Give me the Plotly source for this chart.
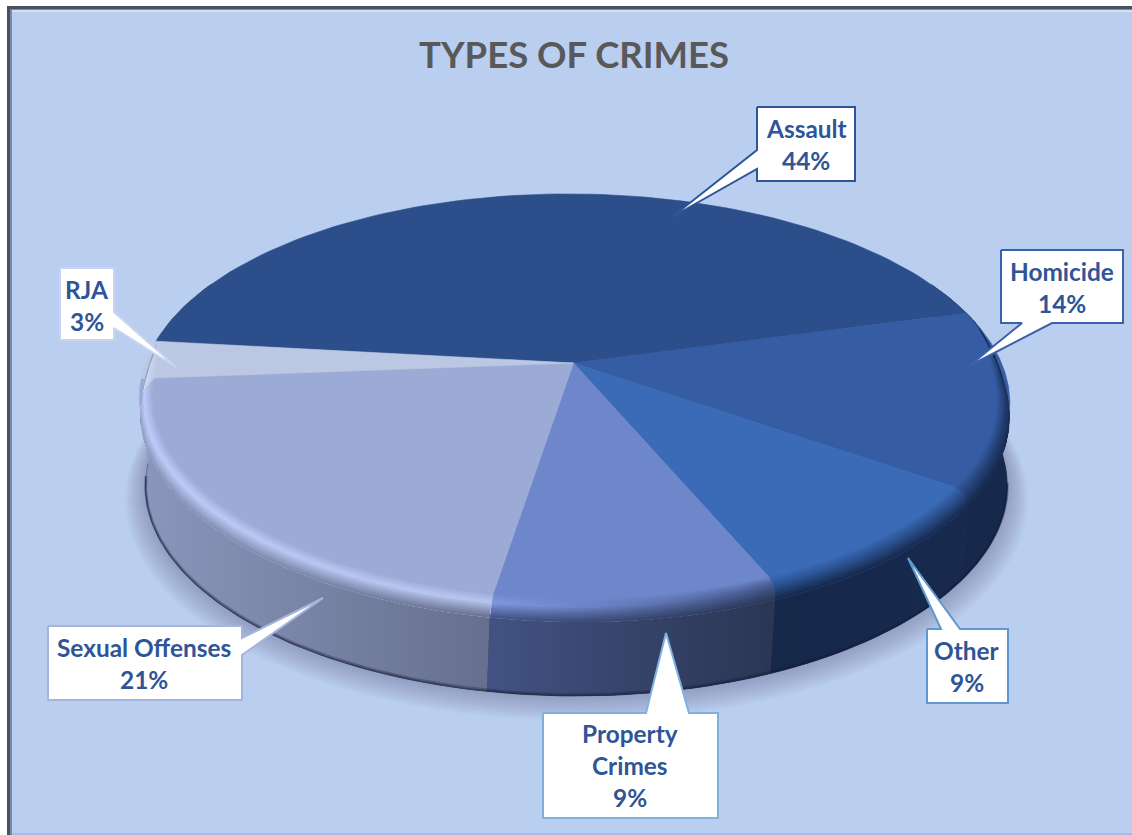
import numpy as np
import plotly.graph_objects as go

# Crime categories and their shares, clockwise from the back-left of the pie
categories = ["Assault", "Homicide", "Other", "Property Crimes", "Sexual Offenses", "RJA"]
shares = [44, 14, 9, 9, 21, 3]
label_lines = [["Assault"], ["Homicide"], ["Other"], ["Property", "Crimes"], ["Sexual Offenses"], ["RJA"]]
title_text = "TYPES OF CRIMES"

# Per-slice paint: face, rim highlight (left, right), wall (left, right)
face_colors = ["#2c4f8c", "#365ca4", "#3b6bb7", "#6e86ca", "#9cabd6", "#bcc8e3"]
rim_colors = [("#2c4f8c", "#2c4f8c"), ("#27467f", "#1f3a6c"), ("#2c5596", "#2a4f8c"),
              ("#7f9ae2", "#46598f"), ("#bccbf8", "#b6c4ee"), ("#d6dff8", "#c6d2ee")]
wall_colors = [("#15284a", "#15284a"), ("#15284a", "#16294c"), ("#15284a", "#172a4e"),
               ("#425283", "#2a3653"), ("#8a96bc", "#666f8d"), ("#8f9cc2", "#8a96bc")]

# Callout geometry: box (x0, y0, x1, y1), tail (base, tip, base), border colour, text centre
callout_boxes = [(757, 107, 855, 181), (1001, 250, 1123, 323), (927, 629, 1008, 703),
                 (543, 713, 718, 818), (48, 626, 242, 700), (60, 268, 114, 340)]
callout_tails = [((757, 150), (672, 217), (757, 169)), ((1022, 323), (969, 366), (1052, 323)),
                 ((941, 629), (908, 558), (960, 629)), ((646, 713), (666, 633), (689, 713)),
                 ((242, 638), (323, 598), (242, 655)), ((114, 312), (176, 367), (114, 328))]
callout_borders = ["#2f5597", "#3a62a8", "#5f97cf", "#7fb0e0", "#a3b4de", "#c8d5ef"]
label_centres = [(806, 128), (1062, 271), (967, 650), (630, 733), (144, 647), (87, 289)]
LINE_STEP = 32

# Perspective model of the pie
FIRST_ANGLE = 173.6      # degrees, slices run clockwise from here
APEX_X, APEX_Y = 573.5, 363.0
RADIUS_X, RADIUS_Y = 428.0, 199.7
TILT = 0.181
DEPTH_X, DEPTH_Y, DEPTH_RX, DEPTH_RY = 3.0, 85.0, 0.99, 1.017
SHEAR = -0.03


def project(theta_deg, r=1.0, z=0.0):
    th = np.radians(theta_deg)
    u, v = r * np.cos(th), r * np.sin(th)
    s = 1.0 / (1.0 + TILT * v)
    apex_y = APEX_Y + DEPTH_Y * z
    y = apex_y - RADIUS_Y * (1 + (DEPTH_RY - 1) * z) * v * s
    x = (APEX_X + DEPTH_X * z + RADIUS_X * (1 + (DEPTH_RX - 1) * z) * u * s
         - SHEAR * (1 - z) * (y - apex_y))
    return x, y


def mix(c1, c2, t):
    a = [int(c1[i:i + 2], 16) for i in (1, 3, 5)]
    b = [int(c2[i:i + 2], 16) for i in (1, 3, 5)]
    return "#" + "".join(f"{int(round(p + (q - p) * t)):02x}" for p, q in zip(a, b))


def bevel_weight(theta):
    return np.clip((0.22 - np.sin(np.radians(theta))) / 0.25, 0, 1)


def rim_point(theta, t):
    w = bevel_weight(theta)
    r = 1 - 0.03 * w * (1 - np.sin(t * np.pi / 2))
    z = 0.17 * w * t ** 2
    return project(theta, r, z)


fig = go.Figure()


def add_poly(xs, ys, fill=None, gradient=None):
    kw = dict(x=xs, y=ys, mode="lines", fill="toself", hoverinfo="skip", showlegend=False)
    if gradient:
        kw["fillgradient"] = dict(type="horizontal", colorscale=[[0, gradient[0]], [1, gradient[1]]])
        kw["line"] = dict(width=0)
    else:
        kw["fillcolor"] = fill
        c = fill if fill.startswith("#") else "rgba(0,0,0,0)"
        kw["line"] = dict(width=0.6 if fill.startswith("#") else 0, color=c)
    fig.add_trace(go.Scatter(**kw))


# Soft drop shadow built from stacked translucent ellipses
ring = np.linspace(0, 360, 181)
for grow in range(26, 0, -2):
    px, py = project(ring, 1 + grow / 560, 1)
    add_poly(px, py + grow * 0.4, fill="rgba(60,80,125,0.028)")

# Slice boundaries from the shares
spans = np.array(shares) * 3.6
ends = FIRST_ANGLE - np.cumsum(spans)
starts = ends + spans

# Dark underlay so neighbouring walls meet without a seam
th = np.linspace(25, -205, 200)
top = np.array([rim_point(q, 1) for q in th])
bx, by = project(th, 1, 1)
add_poly(np.r_[top[:, 0], bx[::-1]], np.r_[top[:, 1], by[::-1]], fill="#28324f")

# Outer walls; the end slices run on past the silhouette so the sides close up
for i in range(1, len(shares)):
    a = 25 if i == 1 else starts[i]
    b = -205 if i == len(shares) - 1 else ends[i]
    th = np.linspace(a, b, 70)
    t_top = np.array([rim_point(q, 1) for q in th])
    bx, by = project(th, 1, 1)
    add_poly(np.r_[t_top[:, 0], bx[::-1]], np.r_[t_top[:, 1], by[::-1]], gradient=wall_colors[i])

# Top faces
for i in range(len(shares)):
    th = np.linspace(starts[i], ends[i], 90)
    px, py = project(th)
    ax, ay = project(0.0, 0.0)
    add_poly(np.r_[ax, px, ax], np.r_[ay, py, ay], fill=face_colors[i])

# Bevel strips easing from the face into the wall; each one overlaps the next
levels = np.linspace(0, 1, 13)
for i in range(1, len(shares)):
    th = np.linspace(starts[i], ends[i], 60)
    outer = np.array([rim_point(q, 1.0) for q in th])
    for t0, t1 in zip(levels[:-1], levels[1:]):
        tm = (t0 + t1) / 2
        cols = []
        for side in (0, 1):
            if tm < 0.45:
                cols.append(mix(face_colors[i], rim_colors[i][side], tm / 0.45))
            else:
                cols.append(mix(rim_colors[i][side], wall_colors[i][side], (tm - 0.45) / 0.55))
        p0 = np.array([rim_point(q, t0) for q in th])
        add_poly(np.r_[p0[:, 0], outer[::-1, 0]], np.r_[p0[:, 1], outer[::-1, 1]], gradient=tuple(cols))

# Dark lip along the bottom edge of the wall
th = np.linspace(-172, -10, 150)
for z, alpha, width in [(0.985, 0.3, 3), (0.995, 0.4, 1.5)]:
    px, py = project(th, 1, z)
    fig.add_trace(go.Scatter(x=px, y=py, mode="lines", hoverinfo="skip", showlegend=False,
                             line=dict(color=f"rgba(20,28,55,{alpha})", width=width)))

# Callouts
for box, tail, border in zip(callout_boxes, callout_tails, callout_borders):
    x0, y0, x1, y1 = box
    a, tip, b = tail
    if a[1] == y0:      # tail on the top edge
        pts = [(x0, y0), a, tip, b, (x1, y0), (x1, y1), (x0, y1)]
    elif a[1] == y1:    # tail on the bottom edge
        pts = [(x0, y0), (x1, y0), (x1, y1), b, tip, a, (x0, y1)]
    elif a[0] == x0:    # tail on the left edge
        pts = [(x0, y0), (x1, y0), (x1, y1), (x0, y1), b, tip, a]
    else:               # tail on the right edge
        pts = [(x0, y0), (x1, y0), a, tip, b, (x1, y1), (x0, y1)]
    pts.append(pts[0])
    xs, ys = zip(*pts)
    fig.add_trace(go.Scatter(x=xs, y=ys, mode="lines", fill="toself", fillcolor="#ffffff",
                             line=dict(color=border, width=2), hoverinfo="skip", showlegend=False))

# Callout text, one annotation per line for exact leading
annotations = []
for lines, share, (cx, cy) in zip(label_lines, shares, label_centres):
    for n, text in enumerate(lines + [f"{share}%"]):
        annotations.append(dict(x=cx, y=cy + n * LINE_STEP, text=f"<b>{text}</b>", showarrow=False,
                                xanchor="center", yanchor="middle",
                                font=dict(family="Lato", size=24.4, color="#2f5597")))
annotations.append(dict(x=574, y=54, text=f"<b>{title_text}</b>", showarrow=False, xanchor="center",
                        yanchor="middle", font=dict(family="Lato", size=36.5, color="#595959")))

# Chart area with its bevelled frame
shapes = [
    dict(type="rect", x0=7, y0=6, x1=1132, y1=835, fillcolor="#4b505f", line_width=0, layer="below"),
    dict(type="rect", x0=10, y0=9, x1=1132, y1=835, fillcolor="#7b8aa8", line_width=0, layer="below"),
    dict(type="rect", x0=12, y0=10, x1=1132, y1=835, fillcolor="#d3e1f7", line_width=0, layer="below"),
    dict(type="rect", x0=12, y0=12, x1=1132, y1=833, fillcolor="#bacef0", line_width=0, layer="below"),
    dict(type="rect", x0=12, y0=833, x1=1132, y1=835, fillcolor="#a6bde3", line_width=0, layer="below"),
]

fig.update_layout(
    width=1132, height=835, margin=dict(l=0, r=0, t=0, b=0), autosize=False,
    paper_bgcolor="#ffffff", plot_bgcolor="rgba(0,0,0,0)", showlegend=False,
    xaxis=dict(range=[0, 1132], visible=False, fixedrange=True),
    yaxis=dict(range=[835, 0], visible=False, fixedrange=True),
    shapes=shapes, annotations=annotations,
)
fig.write_html("out.html")
